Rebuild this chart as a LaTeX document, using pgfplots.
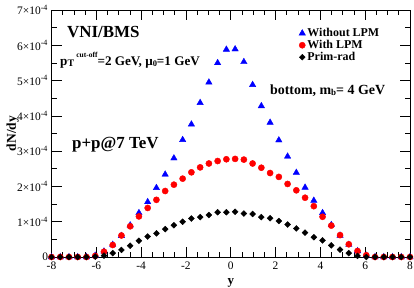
\documentclass[border=0pt]{standalone}
\usepackage{fontspec}
\setmainfont{Liberation Serif}
\usepackage{pgfplots}
\usepackage{pgfplotstable}
\pgfplotsset{compat=1.18}

\pgfplotstableread{
x        blue      red       prim
-8.0000  0         0         0
-7.6098  0         0         0
-7.2195  0         0         0
-6.8293  0         0         0
-6.4390  0         0         0
-6.0488  0.04e-4   0.03e-4   0.01e-4
-5.6585  0.16e-4   0.15e-4   0.04e-4
-5.2683  0.35e-4   0.34e-4   0.11e-4
-4.8780  0.60e-4   0.61e-4   0.20e-4
-4.4878  0.90e-4   0.87e-4   0.32e-4
-4.0976  1.25e-4   1.15e-4   0.46e-4
-3.7073  1.56e-4   1.39e-4   0.58e-4
-3.3171  1.96e-4   1.62e-4   0.67e-4
-2.9268  2.34e-4   1.87e-4   0.79e-4
-2.5366  2.80e-4   2.05e-4   0.90e-4
-2.1463  3.32e-4   2.22e-4   1.00e-4
-1.7561  3.76e-4   2.40e-4   1.09e-4
-1.3659  4.37e-4   2.54e-4   1.13e-4
-0.9756  4.95e-4   2.65e-4   1.19e-4
-0.5854  5.50e-4   2.72e-4   1.27e-4
-0.1951  5.88e-4   2.77e-4   1.27e-4
0.1951   5.89e-4   2.78e-4   1.28e-4
0.5854   5.53e-4   2.76e-4   1.23e-4
0.9756   4.88e-4   2.65e-4   1.22e-4
1.3659   4.28e-4   2.53e-4   1.13e-4
1.7561   3.81e-4   2.38e-4   1.10e-4
2.1463   3.31e-4   2.27e-4   1.02e-4
2.5366   2.85e-4   2.07e-4   0.92e-4
2.9268   2.39e-4   1.89e-4   0.81e-4
3.3171   1.97e-4   1.68e-4   0.69e-4
3.7073   1.60e-4   1.44e-4   0.56e-4
4.0976   1.25e-4   1.14e-4   0.47e-4
4.4878   0.91e-4   0.89e-4   0.33e-4
4.8780   0.61e-4   0.62e-4   0.21e-4
5.2683   0.35e-4   0.36e-4   0.11e-4
5.6585   0.17e-4   0.17e-4   0.03e-4
6.0488   0.04e-4   0.05e-4   0
6.4390   0         0         0
6.8293   0         0         0
7.2195   0         0         0
7.6098   0         0         0
8.0000   0         0         0
}\datatable

\definecolor{gblue}{RGB}{0,0,255}
\definecolor{gred}{RGB}{255,0,0}

\begin{document}
\begin{tikzpicture}
\begin{axis}[
  at={(0,0)}, anchor=south west,
  scale only axis, width=358.5bp, height=247bp,
  xmin=-8, xmax=8, ymin=0, ymax=7e-4,
  clip=false,
  scaled y ticks=false,
  xtick={-8,-6,-4,-2,0,2,4,6,8},
  xticklabels={-8,-6,-4,-2,0,2,4,6,8},
  ytick={0,1e-4,2e-4,3e-4,4e-4,5e-4,6e-4,7e-4},
  yticklabels={0,1×10\textsuperscript{-4},2×10\textsuperscript{-4},3×10\textsuperscript{-4},4×10\textsuperscript{-4},5×10\textsuperscript{-4},6×10\textsuperscript{-4},7×10\textsuperscript{-4}},
  minor x tick num=3, minor y tick num=1,
  tick align=inside,
  major tick length=10bp, minor tick length=5bp,
  tick style={black, line width=0.7pt},
  axis line style={line width=0.9pt},
  xticklabel style={font=\fontsize{11.5}{11.5}\selectfont, inner sep=0pt, text depth=0pt, text height=8bp, yshift=-4.5bp},
  yticklabel style={font=\fontsize{11.5}{11.5}\selectfont},
  xlabel={y}, ylabel={dN/dy},
  xlabel style={font=\bfseries\fontsize{13}{13}\selectfont, at={(axis description cs:0.5,-0.111)}, anchor=base, inner sep=0pt, text height=6.5bp},
  ylabel style={font=\bfseries\fontsize{13.5}{13.5}\selectfont, at={(axis description cs:-0.108,0.5)}, anchor=center},
  legend style={draw=none, fill=none, at={(0.69,0.931)}, anchor=north west,
    font=\bfseries\fontsize{12}{12}\selectfont, row sep=0pt, inner sep=0pt,
    nodes={text height=8.5bp, text depth=2.5bp, inner ysep=0.5bp, inner xsep=2pt}},
  legend cell align=left,
  legend image code/.code={\draw[mark repeat=2,mark phase=2,#1] plot coordinates {(0cm,0cm) (0.25cm,0cm) (0.5cm,0cm)};},
]
\addplot[only marks, mark=triangle*, mark size=3.7pt, color=gblue] table[x=x,y=blue] {\datatable};
\addlegendentry{Without LPM}
\addplot[only marks, mark=*, mark size=3.1pt, color=gred] table[x=x,y=red] {\datatable};
\addlegendentry{With LPM}
\addplot[only marks, mark=square*, mark size=2.1pt, mark options={rotate=45}, color=black] table[x=x,y=prim] {\datatable};
\addlegendentry{Prim-rad}

\node[anchor=base west, inner sep=0, font=\bfseries\fontsize{17}{17}\selectfont] at (rel axis cs:0.043,0.889) {VNI/BMS};
\node[anchor=base west, inner sep=0, font=\bfseries\fontsize{13.2}{13.2}\selectfont] at (rel axis cs:0.0237,0.777)
  {p{\fontsize{10}{10}\selectfont\raisebox{-0.35ex}{T}}\,\raisebox{1.3ex}{\fontsize{7.5}{7.5}\selectfont cut-off}=2 GeV, μ{\fontsize{8.5}{8.5}\selectfont\raisebox{-0.35ex}{0}}=1 GeV};
\node[anchor=base west, inner sep=0, font=\bfseries\fontsize{17}{17}\selectfont] at (rel axis cs:0.057,0.44) {p+p@7 TeV};
\node[anchor=base west, inner sep=0, font=\bfseries\fontsize{14}{14}\selectfont] at (rel axis cs:0.609,0.659)
  {bottom, m{\fontsize{9}{9}\selectfont\raisebox{-0.35ex}{b}}= 4 GeV};
\end{axis}
\pgfresetboundingbox
\path[use as bounding box] (-51.5bp,-31bp) rectangle (362.5bp,257bp);
\end{tikzpicture}
\end{document}
